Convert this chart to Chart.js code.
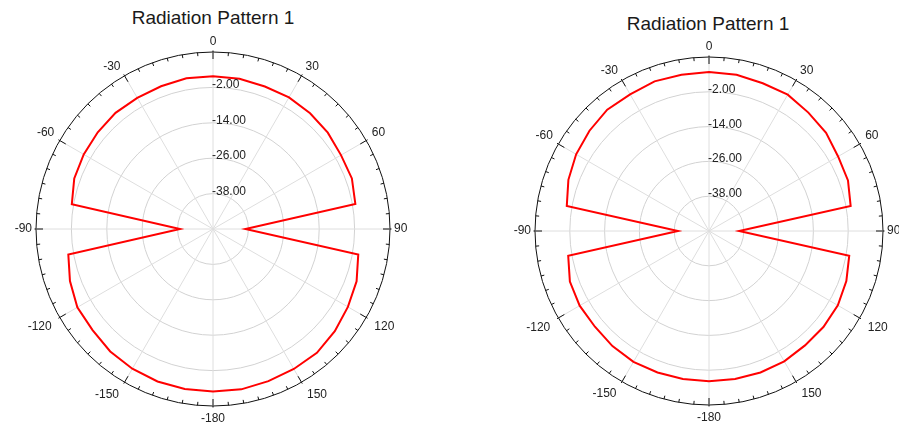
<!DOCTYPE html>
<html><head><meta charset="utf-8">
<script src="https://cdn.jsdelivr.net/npm/chart.js@4.4.0/dist/chart.umd.min.js"></script>
<style>
body{margin:0;background:#fff;width:899px;height:424px;overflow:hidden;position:relative;font-family:"Liberation Sans",Arial,sans-serif}
canvas{position:absolute;top:0}
.title{position:absolute;font-size:19px;line-height:20px;color:#1a1a1a;text-align:center;white-space:nowrap;width:200px}
</style></head><body>
<div class="title" style="left:113px;top:8px">Radiation Pattern 1</div>
<div class="title" style="left:608px;top:14px">Radiation Pattern 1</div>
<canvas id="c1" width="430" height="424" style="left:0"></canvas>
<canvas id="c2" width="449" height="424" style="left:450px"></canvas>
<script>
// Angles (degrees, clockwise from top) of the data samples
const angles = [0,10,20,30,40,50,60,70,80,90,100,110,120,130,140,150,160,170,180,190,200,210,220,230,240,250,260,270,280,290,300,310,320,330,340,350];
// Gain values (dB)
const pattern1 = [1.8,1.7,1.4,1.5,1.2,0.8,0.1,0.1,-1.0,-39.0,0.0,1.8,2.8,3.9,4.8,4.8,4.9,5.2,5.1,5.1,5.0,4.7,4.2,3.3,3.1,1.6,-0.2,-38.8,-1.4,0.05,0.6,1.0,1.4,1.35,1.5,1.9];
const pattern2 = [4.8,4.7,4.2,4.3,3.3,2.7,1.4,1.0,-0.4,-39.6,-0.9,0.4,1.3,1.5,1.5,1.9,1.9,1.8,1.85,1.8,1.9,2.1,1.8,1.35,1.5,1.05,-0.7,-39.3,-0.2,1.6,2.9,3.8,4.6,4.4,4.9,4.7];
// Angular axis major tick angles and their labels
const majorAngles = [0,30,60,90,120,150,180,210,240,270,300,330];
const majorAngleLabels = ['0','30','60','90','120','150','-180','-150','-120','-90','-60','-30'];
// Radial axis labelled ticks
const radialTickValues = [-38,-26,-14,-2];
const radialMin = -50, radialMax = 10, radialStep = 12;

const polarDecor = {
  id: 'polarDecor',
  afterDraw(chart) {
    const s = chart.scales.r, ctx = chart.ctx;
    const cx = s.xCenter, cy = s.yCenter, R = s.getDistanceFromCenterForValue(radialMax);
    ctx.save();
    ctx.strokeStyle = '#111'; ctx.lineWidth = 1;
    for (let a = 0; a < 360; a += 5) {
      const t = a * Math.PI / 180, sn = Math.sin(t), cs = Math.cos(t);
      const major = a % 30 === 0;
      const r0 = R + (major ? 1.5 : 0), r1 = R - (major ? 7 : 3.5);
      ctx.beginPath();
      ctx.moveTo(cx + sn * r0, cy - cs * r0);
      ctx.lineTo(cx + sn * r1, cy - cs * r1);
      ctx.stroke();
    }
    ctx.font = '12px "Liberation Sans", Arial, sans-serif';
    ctx.fillStyle = '#222';
    majorAngles.forEach((a, i) => {
      const t = a * Math.PI / 180, sn = Math.sin(t), cs = Math.cos(t);
      const pad = cs < -0.05 ? 7 : 4;
      const side = (Math.abs(sn) > 0.05 && Math.abs(cs) > 0.05) ? 2 : 0;
      const x = cx + sn * (R + pad) + Math.sign(sn) * side, y = cy - cs * (R + pad);
      ctx.textAlign = sn > 0.05 ? 'left' : (sn < -0.05 ? 'right' : 'center');
      ctx.textBaseline = cs > 0.05 ? 'bottom' : (cs < -0.05 ? 'top' : 'middle');
      ctx.fillText(majorAngleLabels[i], x, y);
    });
    ctx.textAlign = 'left'; ctx.textBaseline = 'alphabetic';
    radialTickValues.forEach(v => {
      const d = s.getDistanceFromCenterForValue(v);
      ctx.fillText(v.toFixed(2), cx - 1, cy - d + 1);
    });
    ctx.restore();
  }
};

function makeChart(id, data, padding) {
  return new Chart(document.getElementById(id), {
    type: 'radar',
    data: {
      labels: angles,
      datasets: [{ data: data, borderColor: '#ff0000', borderWidth: 2, pointRadius: 0, fill: false, tension: 0 }]
    },
    options: {
      responsive: false, animation: false,
      layout: { padding: padding },
      plugins: { legend: { display: false }, tooltip: { enabled: false }, title: { display: false } },
      scales: {
        r: {
          min: radialMin, max: radialMax, startAngle: 0,
          ticks: { stepSize: radialStep, display: false },
          grid: { circular: true, lineWidth: 1, color: c => (c.tick && c.tick.value === radialMax) ? '#111' : '#d2d2d2' },
          angleLines: { color: '#dedede', lineWidth: c => (angles[c.index] % 30 === 0) ? 1 : 0 },
          pointLabels: { display: false }
        }
      }
    },
    plugins: [polarDecor]
  });
}
makeChart('c1', pattern1, { left: 36, top: 52, right: 40, bottom: 18 });
makeChart('c2', pattern2, { left: 85, top: 57, right: 16, bottom: 19 });
</script>
</body></html>
